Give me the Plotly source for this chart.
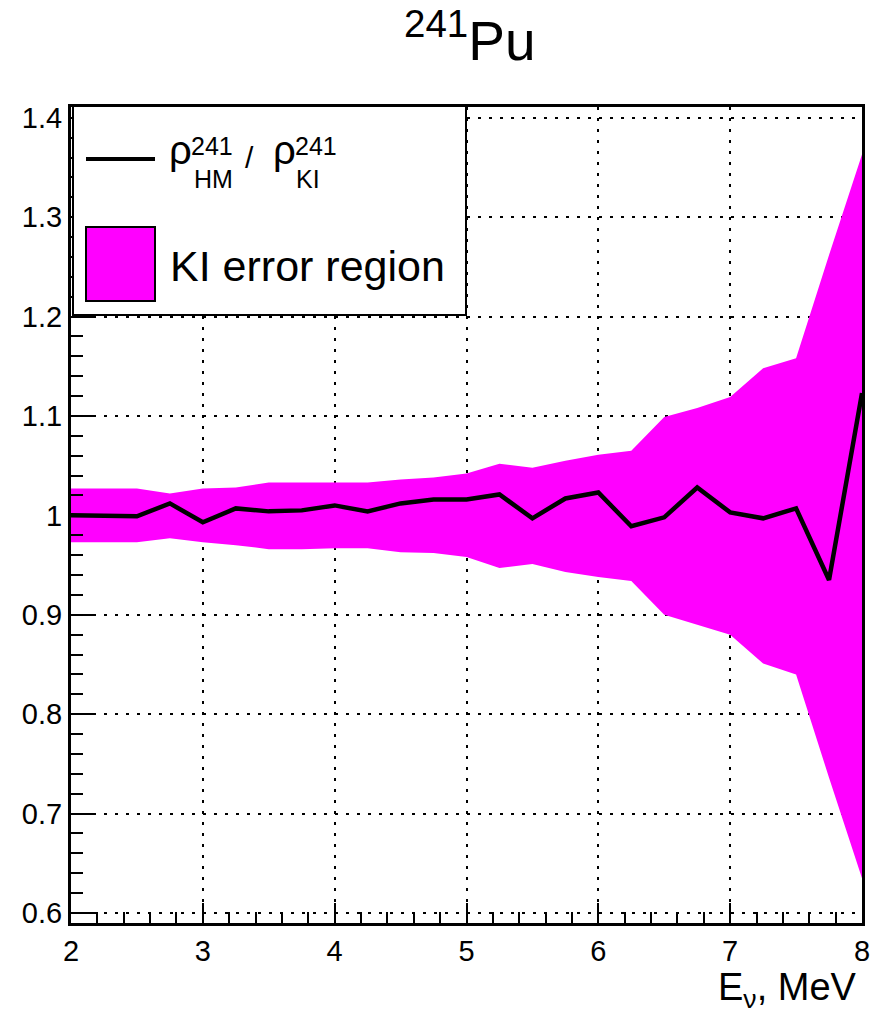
import plotly.graph_objects as go

# ---- data ----
energy = [2.0, 2.25, 2.5, 2.75, 3.0, 3.25, 3.5, 3.75, 4.0, 4.25, 4.5, 4.75,
          5.0, 5.25, 5.5, 5.75, 6.0, 6.25, 6.5, 6.75, 7.0, 7.25, 7.5, 7.75, 8.0]
ratio_hm_ki = [1.000, 1.000, 0.999, 1.012, 0.993, 1.007, 1.004, 1.005, 1.010, 1.004,
               1.012, 1.016, 1.016, 1.021, 0.997, 1.017, 1.023, 0.989, 0.998, 1.028,
               1.003, 0.997, 1.007, 0.935, 1.123]
ki_upper = [1.027, 1.027, 1.027, 1.022, 1.027, 1.028, 1.033, 1.033, 1.033, 1.033,
            1.036, 1.038, 1.042, 1.052, 1.048, 1.055, 1.061, 1.065, 1.099, 1.108,
            1.119, 1.148, 1.158, 1.262, 1.363]
ki_lower = [0.973, 0.973, 0.973, 0.977, 0.973, 0.970, 0.966, 0.966, 0.967, 0.967,
            0.963, 0.962, 0.958, 0.947, 0.951, 0.943, 0.938, 0.934, 0.900, 0.890,
            0.880, 0.851, 0.840, 0.736, 0.635]
x_ticks = [2, 3, 4, 5, 6, 7, 8]
y_ticks = [0.6, 0.7, 0.8, 0.9, 1.0, 1.1, 1.2, 1.3, 1.4]
y_ticktext = ["0.6", "0.7", "0.8", "0.9", "1", "1.1", "1.2", "1.3", "1.4"]

FONT = "Liberation Sans, Arial, Helvetica, sans-serif"
MAGENTA = "#FF00FF"

W, H = 874, 1017
ML, MR, MT, MB = 71, 12, 107, 94
PW, PH = W - ML - MR, H - MT - MB


def px(xp):
    return (xp - ML) / PW


def py(yp):
    return (H - MB - yp) / PH


fig = go.Figure()
fig.add_trace(go.Scatter(
    x=energy + energy[::-1], y=ki_upper + ki_lower[::-1],
    fill="toself", fillcolor=MAGENTA, line=dict(width=0, color=MAGENTA),
    mode="lines", hoverinfo="skip", name="KI error region"))
fig.add_trace(go.Scatter(
    x=energy, y=ratio_hm_ki, mode="lines",
    line=dict(color="black", width=4.5), name="ratio"))

axis_common = dict(
    showline=True, linecolor="black", linewidth=3, mirror=True,
    ticks="inside", tickcolor="black", tickwidth=2,
    showgrid=True, gridcolor="black", gridwidth=2, griddash="3px,8px",
    zeroline=False, tickfont=dict(family=FONT, size=29, color="black"),
    automargin=False,
)

fig.update_xaxes(range=[2, 8], tickmode="array", tickvals=x_ticks,
                 ticktext=[str(v) for v in x_ticks], ticklen=20,
                 minor=dict(ticks="inside", ticklen=11, tickwidth=2,
                            tickcolor="black", dtick=0.2, showgrid=False),
                 **axis_common)
fig.update_yaxes(range=[0.5899, 1.4108], tickmode="array", tickvals=y_ticks,
                 ticktext=y_ticktext, ticklen=25,
                 minor=dict(ticks="inside", ticklen=12, tickwidth=2,
                            tickcolor="black", dtick=0.02, showgrid=False),
                 **axis_common)

shapes = [
    # legend box
    dict(type="rect", xref="paper", yref="paper", x0=px(73), x1=px(466),
         y0=py(315), y1=py(106), fillcolor="white",
         line=dict(color="black", width=2), layer="above"),
    # legend line sample
    dict(type="line", xref="paper", yref="paper", x0=px(86), x1=px(155),
         y0=py(159), y1=py(159), line=dict(color="black", width=4), layer="above"),
    # legend fill sample
    dict(type="rect", xref="paper", yref="paper", x0=px(86), x1=px(155),
         y0=py(301), y1=py(227), fillcolor=MAGENTA,
         line=dict(color="black", width=2), layer="above"),
]

annotations = []


def ann(text, xp, yp, size, xanchor="center", yanchor="middle"):
    annotations.append(dict(
        text=text, xref="paper", yref="paper", x=px(xp), y=py(yp),
        xanchor=xanchor, yanchor=yanchor, showarrow=False,
        font=dict(family=FONT, size=size, color="black")))


# title
ann("<sup>241</sup>Pu", 470, 37, 55)
# legend entry 1: rho_HM^241 / rho_KI^241
ann("ρ", 180, 150, 40)
ann("241", 212, 146, 25)
ann("HM", 213, 179, 25)
ann("/", 249, 157, 30)
ann("ρ", 284, 150, 40)
ann("241", 316, 146, 25)
ann("KI", 308, 179, 25)
# legend entry 2
ann("KI error region", 168, 266, 43, xanchor="left")
# x axis title
ann("E<sub>ν</sub>, MeV", 859, 990, 38, xanchor="right")

fig.update_layout(
    width=W, height=H, autosize=False,
    margin=dict(l=ML, r=MR, t=MT, b=MB, pad=0),
    paper_bgcolor="white", plot_bgcolor="white",
    showlegend=False, shapes=shapes, annotations=annotations,
    font=dict(family=FONT, color="black"),
)

fig.write_html("out.html", config={"responsive": False})
